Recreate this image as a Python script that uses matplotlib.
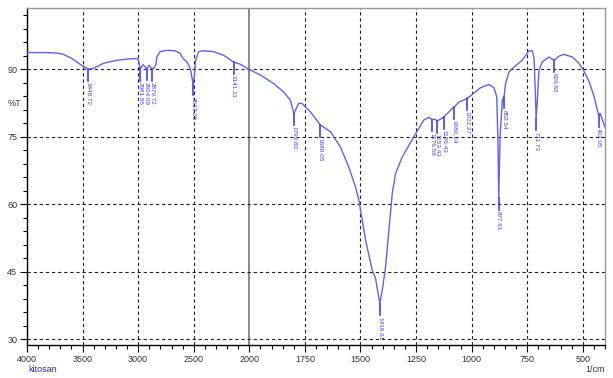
import matplotlib
matplotlib.use("Agg")
import matplotlib.pyplot as plt
import numpy as np
from matplotlib.ticker import FixedLocator, NullFormatter

# spectrum (wavenumber 1/cm, %T)
wavenumber = [4000, 3853, 3733, 3673, 3597, 3523, 3477, 3448, 3403, 3313, 3192, 3072,
              3012, 2997, 2982, 2955, 2924, 2900, 2877, 2860, 2840, 2832, 2802, 2741,
              2667, 2622, 2597, 2561, 2532, 2514, 2507, 2495, 2483, 2456, 2411, 2321,
              2231, 2141, 2081, 2006, 1950, 1890, 1845, 1815, 1800, 1788, 1778, 1763,
              1725, 1680, 1635, 1590, 1553, 1522, 1507, 1477, 1447, 1432, 1413, 1402,
              1387, 1372, 1357, 1342, 1312, 1260, 1215, 1192, 1177, 1165, 1155, 1140,
              1125, 1102, 1087, 1080, 1057, 1019, 997, 959, 922, 900, 887, 882, 878,
              872, 862, 854, 847, 832, 809, 772, 742, 727, 719, 712, 710, 704, 697,
              682, 652, 629, 607, 584, 546, 517, 497, 471, 449, 429, 422, 411, 401]
transmittance = [93.7, 93.7, 93.6, 93.3, 92.4, 91.1, 90.4, 90.0, 90.2, 91.3, 92.0, 92.3,
                 92.4, 92.0, 90.0, 91.0, 90.1, 90.9, 90.0, 90.2, 91.0, 92.7, 93.9, 94.2,
                 94.1, 93.5, 92.4, 91.6, 90.2, 87.9, 86.8, 88.3, 92.0, 93.9, 94.1, 93.9,
                 93.1, 91.6, 91.1, 90.0, 88.7, 86.8, 84.9, 83.1, 80.2, 81.3, 82.4, 82.4,
                 80.5, 77.6, 76.1, 72.7, 68.3, 63.8, 60.9, 52.0, 45.3, 43.5, 37.9, 40.9,
                 46.1, 54.2, 62.4, 66.8, 70.5, 75.0, 78.7, 79.3, 78.8, 78.9, 78.5, 78.9,
                 79.4, 80.5, 81.3, 81.5, 82.7, 83.5, 84.4, 85.9, 86.6, 85.9, 83.9, 75.0,
                 61.3, 75.0, 83.1, 83.9, 86.8, 89.4, 90.5, 92.0, 94.1, 94.1, 92.4, 83.1,
                 79.0, 83.1, 89.8, 91.6, 92.7, 92.0, 92.9, 93.3, 92.7, 91.3, 89.8, 87.2,
                 83.9, 79.8, 80.2, 78.7, 77.2]

peak_wn = [3448, 2982, 2924, 2877, 2507, 2141, 1800, 1680, 1413, 1177, 1155, 1125,
           1080, 1019, 878, 854, 710, 629, 429]
peak_text = ["3448.72", "2981.95", "2924.09", "2879.72", "2513.25", "2141.11",
             "1793.80", "1680.05", "1419.61", "1176.58", "1153.43", "1126.43",
             "1080.14", "1022.27", "877.61", "852.54", "711.73", "626.82", "432.05"]

x_major = [4000, 3500, 3000, 2500, 2000, 1750, 1500, 1250, 1000, 750, 500]
y_major = [30, 45, 60, 75, 90]

plt.rcParams['font.family'] = ['Liberation Sans', 'DejaVu Sans']

line_col = '#6262f2'
text_col = '#4040ff'


# scale is stretched x2 below 2000 1/cm
def fwd(x):
    x = np.asarray(x, dtype=float)
    return np.where(x > 2000, 2000 + (x - 2000) / 2, x)


def inv(p):
    p = np.asarray(p, dtype=float)
    return np.where(p > 2000, 2000 + (p - 2000) * 2, p)


fig = plt.figure(figsize=(6.13, 3.78), dpi=100)
ax = fig.add_axes([27 / 613, 1 - 345 / 378, 578 / 613, 337 / 378])
ax.set_xscale('function', functions=(fwd, inv))
ax.set_xlim(4000, 400)
ax.set_ylim(28.7, 103.6)

# grid
for x in x_major:
    if x == 2000:
        ax.axvline(x, color='#808080', lw=1.3, zorder=1)
    else:
        ax.axvline(x, color='#222222', lw=0.8, ls=(0, (3, 2.5)), zorder=1)
for y in y_major:
    ax.axhline(y, color='#222222', lw=0.8, ls=(0, (3, 2.5)), zorder=1)

ax.plot(wavenumber, transmittance, color=line_col, lw=1.0, zorder=3)

# peak markers
wn_sorted = np.array(wavenumber[::-1], dtype=float)
t_sorted = np.array(transmittance[::-1], dtype=float)
for wn, txt in zip(peak_wn, peak_text):
    t = np.interp(wn, wn_sorted, t_sorted)
    ax.plot([wn, wn], [t, t - 2.6], color=text_col, lw=1.2, zorder=4)
    ax.text(wn, t - 2.9, txt, rotation=-90, ha='center', va='top',
            fontsize=4.6, color=text_col, zorder=4)

ax.xaxis.set_major_locator(FixedLocator(x_major))
ax.xaxis.set_minor_locator(FixedLocator(list(range(4000, 2000, -100)) +
                                        list(range(2000, 399, -50))))
ax.xaxis.set_minor_formatter(NullFormatter())
ax.set_xticklabels([str(v) for v in x_major])
ax.yaxis.set_major_locator(FixedLocator(y_major))
ax.yaxis.set_minor_locator(FixedLocator(list(np.arange(30, 104, 3))))
ax.yaxis.set_minor_formatter(NullFormatter())

ax.tick_params(axis='both', which='major', direction='out', length=5, width=0.8,
               labelsize=6.5, colors='black', labelcolor='#333333', pad=2)
ax.tick_params(axis='both', which='minor', direction='out', length=3, width=0.8)

for s in ['left', 'bottom']:
    ax.spines[s].set_color('black')
    ax.spines[s].set_linewidth(1.0)
for s in ['top', 'right']:
    ax.spines[s].set_color('#999999')
    ax.spines[s].set_linewidth(1.0)

ax.text(-0.022, 82.4, '%T', transform=ax.get_yaxis_transform(), ha='center',
        va='center', fontsize=6.5, color='#333333')
fig.text(28 / 613, 1 - 369 / 378, 'kitosan', ha='left', va='center',
         fontsize=6.5, color='#2222ff')
fig.text(605 / 613, 1 - 369 / 378, '1/cm', ha='right', va='center',
         fontsize=6.5, color='#333333')

fig.savefig('out.png', dpi=100)
